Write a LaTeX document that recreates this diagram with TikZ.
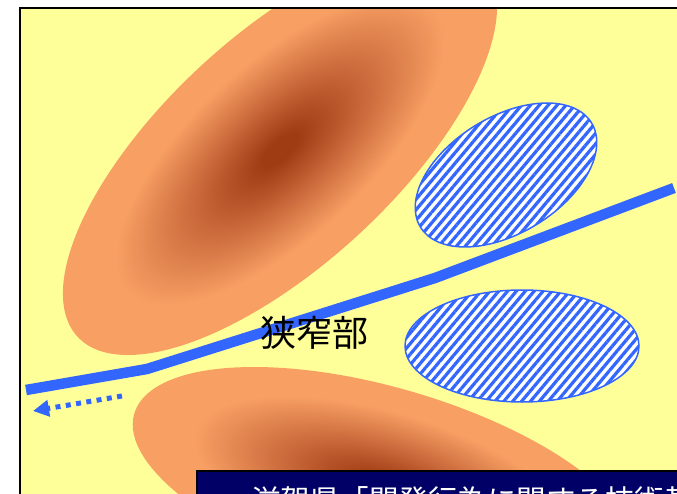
\documentclass[tikz,border=0pt]{standalone}
\usepackage{fontspec}
\newfontfamily\jpfont{Noto Sans CJK JP}
\usetikzlibrary{arrows.meta,patterns.meta}
\definecolor{bgyellow}{HTML}{FFFF99}
\definecolor{clayedge}{HTML}{F8A064}
\definecolor{claymid}{HTML}{CB6A3C}
\definecolor{claycore}{HTML}{A03C14}
\definecolor{flowblue}{HTML}{3366FF}
\definecolor{boxnavy}{HTML}{000066}
\pgfdeclareradialshading{clay}{\pgfpoint{0bp}{0bp}}{color(0bp)=(claycore); color(2bp)=(claycore); color(10bp)=(claymid); color(19bp)=(clayedge); color(50bp)=(clayedge)}
\begin{document}
\begin{tikzpicture}[x=1pt,y=-1pt]
        \tikzset{blob/.style = {shading=clay}}
        \tikzset{hatched/.style = {draw=flowblue, line width=1.5pt, preaction={fill=white}, pattern={Lines[angle=50,distance=6.8pt,line width=3.2pt]}, pattern color=flowblue}}
        \tikzset{channel/.style = {draw=flowblue, line width=10.5pt, line join=round}}
        \tikzset{flowarrow/.style = {draw=flowblue, line width=5pt, dash pattern=on 5pt off 5.4pt, -{Triangle[length=16pt,width=16pt]}}}
        \useasboundingbox[fill=white] (0,0) rectangle (677,494);
        \begin{scope}
        \clip (20,8) rectangle (677,494);
        \fill[bgyellow] (20,8) rectangle (677,494);
        % soil masses
        \begin{scope}[transform canvas={cm={15.5,0,-15.2,-20.5,(280,150)}}]
        \shade[blob] (0,0) circle (10);
        \end{scope}
        \begin{scope}[transform canvas={cm={21.5,0,13,-11.9,(384,486)}}]
        \shade[blob] (0,0) circle (10);
        \end{scope}
        % hatched lenses
        \draw[hatched] plot[smooth cycle, domain=0:350, samples=36] ({506+81*cos(\x)-41*sin(\x)}, {175+72*sin(\x)});
        \draw[hatched] (522,346) ellipse [x radius=117, y radius=56];
        % flow path
        \coordinate (c1) at (26,390);
        \coordinate (c2) at (147,369);
        \coordinate (c3) at (435,278);
        \coordinate (c4) at (674,188);
        \draw[channel] (c1) -- (c2) -- (c3) -- (c4);
        \coordinate (tail) at (122,396);
        \coordinate (head) at (33,411);
        \draw[flowarrow] (tail) -- (head);
        \node[font=\jpfont\fontsize{36}{40}\selectfont] (narrow) at (314,333) {狭窄部};
        % source box
        \filldraw[fill=boxnavy, draw=black, line width=2pt] (197,471) rectangle (700,520);
        \node[anchor=base west, inner sep=0pt, text=white, font=\jpfont\fontsize{29.5}{32}\selectfont] (source) at (251,511) {滋賀県「開発行為に関する技術基準」};
        \end{scope}
        \draw[line width=2pt] (20,494) -- (20,8) -- (677,8);
\end{tikzpicture}
\end{document}
